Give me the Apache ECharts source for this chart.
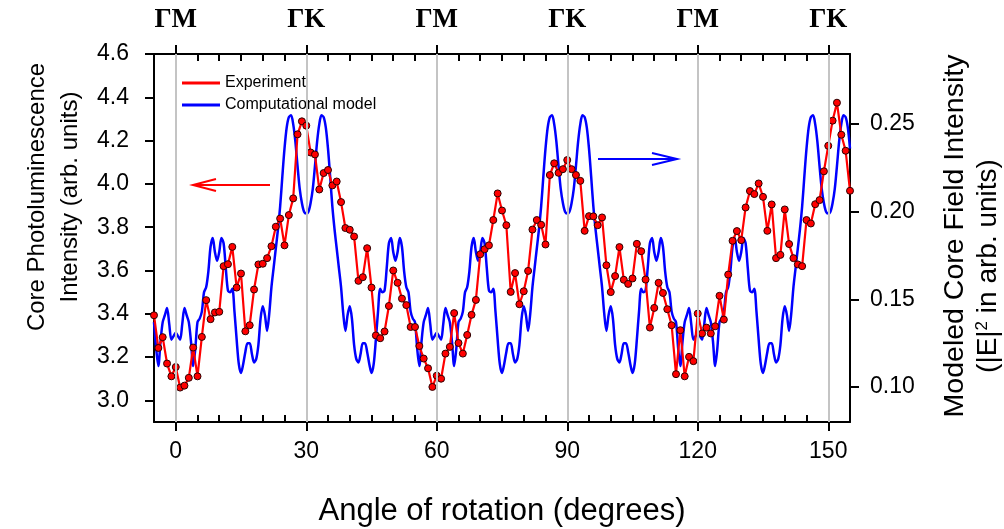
<!DOCTYPE html>
<html>
<head>
<meta charset="utf-8">
<script src="https://cdn.jsdelivr.net/npm/echarts@6.0.0/dist/echarts.min.js"></script>
<style>
  html, body { margin: 0; padding: 0; background: #fff; }
  #chart { width: 1004px; height: 529px; }
  #err { position: absolute; left: 300px; top: 440px; color: #c00; font: 12px sans-serif; }
</style>
</head>
<body>
<div id="chart"></div>
<div id="err"></div>
<script>
window.onerror = function (msg) { document.getElementById('err').textContent = String(msg); };

// axis ticks and labels
const majorAngles = [0, 30, 60, 90, 120, 150];
const minorAngles = [5, 10, 15, 20, 25, 35, 40, 45, 50, 55, 65, 70, 75, 80, 85,
  95, 100, 105, 110, 115, 125, 130, 135, 140, 145];
const symmetryLabels = ['ΓM', 'ΓK', 'ΓM', 'ΓK', 'ΓM', 'ΓK'];
const leftTicks = [3.0, 3.2, 3.4, 3.6, 3.8, 4.0, 4.2, 4.4, 4.6];
const rightTicks = [0.10, 0.15, 0.20, 0.25];

// experiment, one point per degree from -5 to 155
const expStart = -5, expStep = 1;
const expValues = [
  3.393, 3.242, 3.292, 3.170, 3.111,
  3.154, 3.059, 3.068, 3.104, 3.244, 3.111, 3.293, 3.463, 3.375, 3.406,
  3.409, 3.620, 3.629, 3.709, 3.521, 3.586, 3.319, 3.347, 3.512, 3.628,
  3.631, 3.657, 3.712, 3.802, 3.840, 3.716, 3.856, 3.933, 4.229, 4.289,
  4.269, 4.145, 4.136, 3.974, 4.050, 4.064, 3.993, 4.011, 3.916, 3.796,
  3.788, 3.757, 3.552, 3.569, 3.703, 3.521, 3.300, 3.287, 3.318, 3.436,
  3.600, 3.543, 3.470, 3.440, 3.339, 3.339, 3.251, 3.193, 3.148, 3.062,
  3.114, 3.100, 3.216, 3.247, 3.403, 3.265, 3.216, 3.302, 3.395, 3.464,
  3.675, 3.698, 3.716, 3.833, 3.956, 3.877, 3.809, 3.501, 3.588, 3.444,
  3.504, 3.598, 3.789, 3.833, 3.811, 3.720, 4.041, 4.095, 4.051, 4.068,
  4.110, 4.068, 4.041, 4.014, 3.783, 3.851, 3.850, 3.809, 3.845, 3.624,
  3.500, 3.574, 3.708, 3.557, 3.538, 3.563, 3.723, 3.689, 3.558, 3.336,
  3.427, 3.543, 3.496, 3.421, 3.347, 3.121, 3.324, 3.111, 3.201, 3.181,
  3.401, 3.309, 3.336, 3.309, 3.342, 3.483, 3.373, 3.581, 3.737, 3.782,
  3.740, 3.891, 3.967, 3.953, 4.002, 3.940, 3.783, 3.905, 3.657, 3.672,
  3.882, 3.722, 3.657, 3.628, 3.620, 3.833, 3.817, 3.906, 3.925, 4.058,
  4.176, 4.292, 4.375, 4.227, 4.153, 3.968
];

// computational model, every half degree from -5 to 155
const modelStart = -5, modelStep = 0.5;
const modelValues = [
  0.137, 0.122, 0.112, 0.126, 0.137, 0.141, 0.145, 0.136, 0.127, 0.129,
  // 0 - 30
  0.131, 0.129, 0.127, 0.136, 0.145, 0.141, 0.137, 0.126, 0.112, 0.122,
  0.137, 0.139, 0.143, 0.154, 0.157, 0.166, 0.180, 0.185, 0.177, 0.172,
  0.177, 0.185, 0.182, 0.168, 0.155, 0.154, 0.156, 0.143, 0.127, 0.113,
  0.108, 0.113, 0.120, 0.125, 0.125, 0.119, 0.114, 0.116, 0.124, 0.139,
  0.146, 0.141, 0.132, 0.142, 0.157, 0.168, 0.179, 0.190, 0.203, 0.220,
  0.236, 0.248, 0.254, 0.255, 0.250, 0.240, 0.226, 0.213, 0.205, 0.200,
  0.199,
  // 30.5 - 60
  0.200, 0.205, 0.213, 0.226, 0.240, 0.250, 0.255, 0.254, 0.248, 0.236,
  0.220, 0.203, 0.190, 0.179, 0.168, 0.157, 0.142, 0.132, 0.141, 0.146,
  0.139, 0.124, 0.116, 0.114, 0.119, 0.125, 0.125, 0.120, 0.113, 0.108,
  0.113, 0.127, 0.143, 0.156, 0.154, 0.155, 0.168, 0.182, 0.185, 0.177,
  0.172, 0.177, 0.185, 0.180, 0.166, 0.157, 0.154, 0.143, 0.139, 0.137,
  0.122, 0.112, 0.126, 0.137, 0.141, 0.145, 0.136, 0.127, 0.129, 0.131,
  // 60.5 - 90
  0.129, 0.127, 0.136, 0.145, 0.141, 0.137, 0.126, 0.112, 0.122,
  0.137, 0.139, 0.143, 0.154, 0.157, 0.166, 0.180, 0.185, 0.177, 0.172,
  0.177, 0.185, 0.182, 0.168, 0.155, 0.154, 0.156, 0.143, 0.127, 0.113,
  0.108, 0.113, 0.120, 0.125, 0.125, 0.119, 0.114, 0.116, 0.124, 0.139,
  0.146, 0.141, 0.132, 0.142, 0.157, 0.168, 0.179, 0.190, 0.203, 0.220,
  0.236, 0.248, 0.254, 0.255, 0.250, 0.240, 0.226, 0.213, 0.205, 0.200,
  0.199,
  // 90.5 - 120
  0.200, 0.205, 0.213, 0.226, 0.240, 0.250, 0.255, 0.254, 0.248, 0.236,
  0.220, 0.203, 0.190, 0.179, 0.168, 0.157, 0.142, 0.132, 0.141, 0.146,
  0.139, 0.124, 0.116, 0.114, 0.119, 0.125, 0.125, 0.120, 0.113, 0.108,
  0.113, 0.127, 0.143, 0.156, 0.154, 0.155, 0.168, 0.182, 0.185, 0.177,
  0.172, 0.177, 0.185, 0.180, 0.166, 0.157, 0.154, 0.143, 0.139, 0.137,
  0.122, 0.112, 0.126, 0.137, 0.141, 0.145, 0.136, 0.127, 0.129, 0.131,
  // 120.5 - 150
  0.129, 0.127, 0.136, 0.145, 0.141, 0.137, 0.126, 0.112, 0.122,
  0.137, 0.139, 0.143, 0.154, 0.157, 0.166, 0.180, 0.185, 0.177, 0.172,
  0.177, 0.185, 0.182, 0.168, 0.155, 0.154, 0.156, 0.143, 0.127, 0.113,
  0.108, 0.113, 0.120, 0.125, 0.125, 0.119, 0.114, 0.116, 0.124, 0.139,
  0.146, 0.141, 0.132, 0.142, 0.157, 0.168, 0.179, 0.190, 0.203, 0.220,
  0.236, 0.248, 0.254, 0.255, 0.250, 0.240, 0.226, 0.213, 0.205, 0.200,
  0.199,
  // 150.5 - 155
  0.200, 0.205, 0.213, 0.226, 0.240, 0.250, 0.255, 0.254, 0.248, 0.236
];

const Y_MIN = 2.9, Y_MAX = 4.6;
const FONT = '"Liberation Sans", Arial, sans-serif';
const black = { color: '#000', width: 2 };

const chart = echarts.init(document.getElementById('chart'), null, { renderer: 'canvas' });

function xAxisFor(position) {
  const top = position === 'top';
  return {
    type: 'value', min: -5, max: 155, position: position,
    axisLine: { show: true, onZero: false, lineStyle: black },
    axisTick: { show: true, length: 9, customValues: majorAngles, lineStyle: black },
    axisLabel: {
      customValues: majorAngles,
      color: '#000',
      fontSize: top ? 27 : 23,
      fontFamily: top ? '"Liberation Serif", "Times New Roman", serif' : FONT,
      fontWeight: top ? 'bold' : 'normal',
      margin: top ? 20 : 18,
      formatter: top ? (v) => symmetryLabels[Math.round(v / 30)] : (v) => String(v)
    },
    splitLine: { show: false }
  };
}

const graphics = [
  { type: 'text', x: 502, y: 511, style: { text: 'Angle of rotation (degrees)', font: '31px ' + FONT, fill: '#000', align: 'center', verticalAlign: 'middle' } },
  { type: 'text', x: 37, y: 197, rotation: Math.PI / 2, style: { text: 'Core Photoluminescence', font: '24px ' + FONT, fill: '#000', align: 'center', verticalAlign: 'middle' } },
  { type: 'text', x: 70, y: 197, rotation: Math.PI / 2, style: { text: 'Intensity (arb. units)', font: '24px ' + FONT, fill: '#000', align: 'center', verticalAlign: 'middle' } },
  { type: 'text', x: 955, y: 236, rotation: Math.PI / 2, style: { text: 'Modeled Core Field Intensity', font: '28.5px ' + FONT, fill: '#000', align: 'center', verticalAlign: 'middle' } },
  {
    type: 'text', x: 988, y: 266, rotation: Math.PI / 2,
    style: {
      text: '{a|(|E|}{s|2}{a| in arb. units)}', align: 'center', verticalAlign: 'middle',
      rich: {
        a: { font: '28px ' + FONT, fill: '#000' },
        s: { font: '17px ' + FONT, fill: '#000', verticalAlign: 'top', padding: [0, 0, 12, 0] }
      }
    }
  },
  // direction arrows
  { type: 'polyline', shape: { points: [[270, 185], [193, 185]] }, style: { stroke: '#ff0000', lineWidth: 2, fill: null } },
  { type: 'polyline', shape: { points: [[216, 179], [193, 185], [216, 191]] }, style: { stroke: '#ff0000', lineWidth: 2, fill: null } },
  { type: 'polyline', shape: { points: [[598, 159], [677, 159]] }, style: { stroke: '#0000ff', lineWidth: 2, fill: null } },
  { type: 'polyline', shape: { points: [[652, 153], [677, 159], [652, 165]] }, style: { stroke: '#0000ff', lineWidth: 2, fill: null } }
];

const option = {
  animation: false,
  grid: { left: 154, right: 154, top: 54, bottom: 107, show: false },
  legend: {
    orient: 'vertical', left: 177, top: 69, itemWidth: 38, itemHeight: 3, itemGap: 4,
    icon: 'rect',
    itemStyle: { borderWidth: 0 },
    textStyle: { fontSize: 16, fontFamily: FONT, color: '#000', lineHeight: 18 },
    data: [{ name: 'Experiment' }, { name: 'Computational model' }]
  },
  xAxis: [xAxisFor('bottom'), xAxisFor('top')],
  yAxis: [
    {
      type: 'value', min: Y_MIN, max: Y_MAX, position: 'left',
      axisLine: { show: true, onZero: false, lineStyle: black },
      axisTick: { show: true, customValues: leftTicks, length: 9, lineStyle: black },
      axisLabel: {
        customValues: leftTicks, color: '#000', fontSize: 23, fontFamily: FONT, margin: 25,
        formatter: (v) => v.toFixed(1)
      },
      splitLine: { show: false }
    },
    {
      type: 'value', min: 0.08, max: 0.29, position: 'right',
      axisLine: { show: true, onZero: false, lineStyle: black },
      axisTick: { show: true, customValues: rightTicks, length: 9, lineStyle: black },
      axisLabel: {
        customValues: rightTicks, color: '#000', fontSize: 23, fontFamily: FONT, margin: 20,
        formatter: (v) => v.toFixed(2)
      },
      splitLine: { show: false }
    }
  ],
  series: [
    {
      // vertical reference lines at the symmetry directions
      type: 'line', data: [], xAxisIndex: 0, yAxisIndex: 0, z: 1, silent: true,
      markLine: {
        symbol: 'none', silent: true, animation: false,
        label: { show: false },
        lineStyle: { color: '#c4c4c4', width: 2, type: 'solid' },
        data: majorAngles.map((a) => ({ xAxis: a }))
      }
    },
    {
      name: 'Computational model', type: 'line', xAxisIndex: 0, yAxisIndex: 1, z: 2,
      data: modelValues.map((v, i) => [modelStart + i * modelStep, v]),
      showSymbol: false, smooth: 0.3,
      lineStyle: { color: '#0000ff', width: 2.5 },
      itemStyle: { color: '#0000ff' }
    },
    {
      name: 'Experiment', type: 'line', xAxisIndex: 0, yAxisIndex: 0, z: 3,
      data: expValues.map((v, i) => [expStart + i * expStep, v]),
      symbol: 'circle', symbolSize: 7,
      lineStyle: { color: '#ff0000', width: 2.2 },
      itemStyle: { color: '#ff0000', borderColor: '#2a0000', borderWidth: 1 }
    }
  ],
  graphic: graphics
};

try {
  chart.setOption(option);

  // minor ticks every 5 degrees pointing into the plot, placed with the x axis scale
  const yBottom = chart.convertToPixel({ yAxisIndex: 0 }, Y_MIN);
  const yTop = chart.convertToPixel({ yAxisIndex: 0 }, Y_MAX);
  const ticks = [];
  minorAngles.forEach((a) => {
    const x = Math.round(chart.convertToPixel({ xAxisIndex: 0 }, a));
    ticks.push({ type: 'line', z: 100, shape: { x1: x, y1: yBottom, x2: x, y2: yBottom - 7 }, style: { stroke: '#000', lineWidth: 2 } });
    ticks.push({ type: 'line', z: 100, shape: { x1: x, y1: yTop, x2: x, y2: yTop + 7 }, style: { stroke: '#000', lineWidth: 2 } });
  });
  chart.setOption({ graphic: graphics.concat(ticks) });
} catch (e) {
  document.getElementById('err').textContent = String(e);
}
</script>
</body>
</html>
